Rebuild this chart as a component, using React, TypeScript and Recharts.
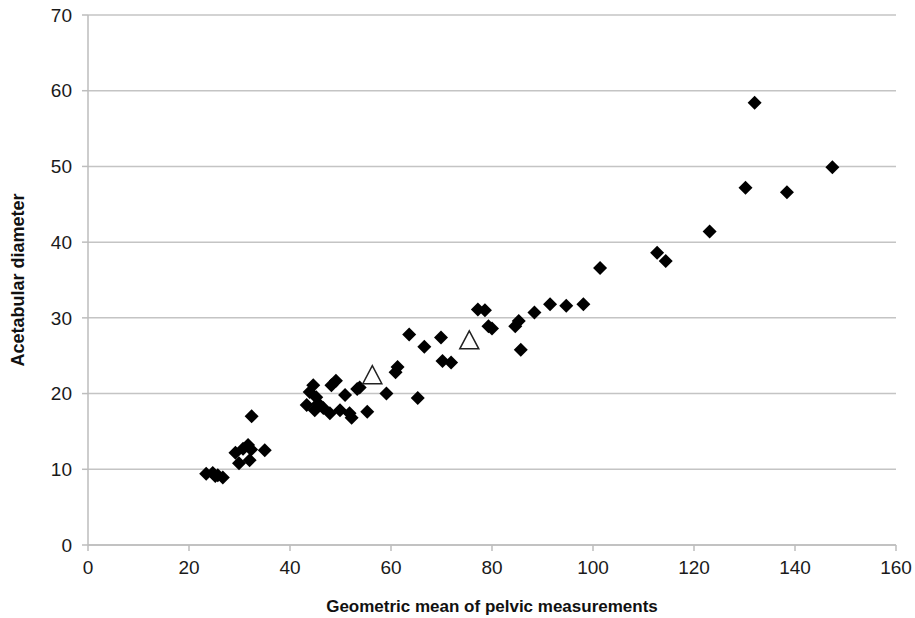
import React from 'react';
import { ScatterChart, Scatter, XAxis, YAxis, CartesianGrid } from 'recharts';

const specimenX = [23.4, 24.7, 25.7, 26.7, 25.2, 29.2, 29.9, 30.7, 31.7, 32.3, 32.0, 35.0, 32.4,
  43.3, 43.9, 44.6, 45.2, 45.6, 44.9, 46.6, 47.9, 48.2, 49.1, 49.9, 50.9, 51.8, 52.2, 53.3, 53.8, 55.3,
  59.1, 60.9, 61.3, 63.6, 65.3, 66.6, 69.9, 70.2, 71.9,
  77.2, 78.6, 79.3, 80.0, 84.6, 85.3, 85.7, 88.4, 91.5, 94.7, 98.1, 101.4,
  112.7, 114.4, 123.1, 130.2, 132.0, 138.4, 147.4];
const specimenY = [9.4, 9.5, 9.2, 8.9, 9.1, 12.2, 10.8, 12.7, 13.2, 12.6, 11.2, 12.5, 17.0,
  18.5, 20.2, 21.1, 19.5, 18.7, 17.8, 18.1, 17.4, 21.1, 21.7, 17.8, 19.8, 17.4, 16.8, 20.6, 20.8, 17.6,
  20.0, 22.8, 23.5, 27.8, 19.4, 26.2, 27.4, 24.3, 24.1,
  31.1, 31.0, 28.9, 28.6, 28.9, 29.6, 25.8, 30.7, 31.8, 31.6, 31.8, 36.6,
  38.6, 37.5, 41.4, 47.2, 58.4, 46.6, 49.9];
const fossilX = [56.3, 75.5];
const fossilY = [22.5, 27.1];

const xTicks = [0, 20, 40, 60, 80, 100, 120, 140, 160];
const yTicks = [0, 10, 20, 30, 40, 50, 60, 70];

const specimens = specimenX.map((x, i) => ({ x, y: specimenY[i] }));
const fossils = fossilX.map((x, i) => ({ x, y: fossilY[i] }));

const FONT = '"Liberation Sans", Arial, Helvetica, sans-serif';

const Diamond = (props: any) => {
  const { cx, cy } = props;
  const r = 7;
  return <path d={`M${cx},${cy - r}L${cx + r},${cy}L${cx},${cy + r}L${cx - r},${cy}Z`} fill="#000" />;
};

const Triangle = (props: any) => {
  const { cx, cy } = props;
  const w = 9.5;
  const h = 9;
  return (
    <path
      d={`M${cx},${cy - h}L${cx + w},${cy + h}L${cx - w},${cy + h}Z`}
      fill="#fff"
      stroke="#222"
      strokeWidth={1.5}
    />
  );
};

export default function App() {
  return (
    <div style={{ position: 'absolute', left: 0, top: 0, width: 915, height: 618, background: '#fff' }}>
      <ScatterChart width={915} height={618} margin={{ top: 15, right: 19, left: 0, bottom: 0 }}>
        <CartesianGrid horizontal={true} vertical={false} stroke="#c4c4c4" strokeWidth={1.5} />
        <XAxis
          type="number"
          dataKey="x"
          domain={[0, 160]}
          ticks={xTicks}
          interval={0}
          height={73}
          tickSize={6}
          tickMargin={10}
          stroke="#bdbdbd"
          strokeWidth={1.5}
          tick={{ fill: '#1a1a1a', fontSize: 19, fontFamily: FONT }}
          label={{
            value: 'Geometric mean of pelvic measurements',
            position: 'insideBottom',
            offset: 6,
            style: { fill: '#111', fontSize: 17, fontWeight: 'bold', fontFamily: FONT },
          }}
        />
        <YAxis
          type="number"
          dataKey="y"
          domain={[0, 70]}
          ticks={yTicks}
          interval={0}
          width={88}
          tickSize={6}
          tickMargin={10}
          stroke="#bdbdbd"
          strokeWidth={1.5}
          tick={{ fill: '#1a1a1a', fontSize: 19, fontFamily: FONT }}
          label={{
            value: 'Acetabular diameter',
            angle: -90,
            position: 'insideLeft',
            offset: 18,
            style: { textAnchor: 'middle', fill: '#111', fontSize: 18, fontWeight: 'bold', fontFamily: FONT },
          }}
        />
        <Scatter data={specimens} shape={Diamond} isAnimationActive={false} />
        <Scatter data={fossils} shape={Triangle} isAnimationActive={false} />
      </ScatterChart>
    </div>
  );
}
